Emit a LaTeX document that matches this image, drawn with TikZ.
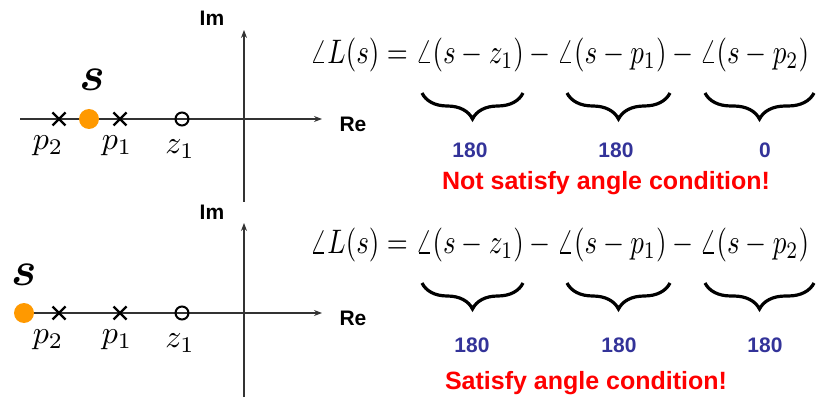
\documentclass[tikz,border=0pt]{standalone}
\usepackage{amsmath}
\usepackage{bm}
\usepackage{graphicx}
\usepackage{fontspec}
\setsansfont{Liberation Sans}
\usetikzlibrary{arrows.meta,decorations.pathreplacing}
\definecolor{dotorange}{RGB}{255,153,0}
\definecolor{angblue}{RGB}{51,51,153}
\newcommand{\bigmath}[3]{\scalebox{#1}[#2]{$#3$}}
\newcommand{\angleq}{\angle L(s) = \angle(s-z_1)-\angle(s-p_1)-\angle(s-p_2)}

\begin{document}
\begin{tikzpicture}[x=1pt,y=-1pt,
  axis/.style={line width=1.2pt,draw=black!80,-{Stealth[length=8pt,width=6pt]}},
  pole/.style={line width=2.4pt},
  zero/.style={line width=2pt},
  axlab/.style={font=\sffamily\bfseries\fontsize{21}{24}\selectfont},
  eqn/.style={inner sep=0pt,anchor=west},
  ubrace/.style={decorate,decoration={brace,mirror,amplitude=26pt},line width=3.2pt},
  angnum/.style={text=angblue,font=\sffamily\bfseries\fontsize{21}{24}\selectfont},
  verdict/.style={text=red,font=\sffamily\bfseries\fontsize{25}{28}\selectfont}]
\useasboundingbox (0,0) rectangle (817,398);

% upper plane: s between p2 and p1
\draw[axis] (20,119) -- (322,119);
\draw[axis] (244,202) -- (244,30);
\node[axlab] (im1) at (212,18) {Im};
\node[axlab] (re1) at (353,124) {Re};
\foreach \x in {59,120}
  \draw[pole] (\x-6.5,112.5) -- (\x+6.5,125.5) (\x-6.5,125.5) -- (\x+6.5,112.5);
\draw[zero] (182,119) circle (6.5);
\fill[dotorange] (89,119) circle (10);
\node (s1) at (92,80) {\bigmath{4.8}{4.8}{\bm{s}}};
\node (p2a) at (48,146) {\bigmath{3.2}{3.2}{p_2}};
\node (p1a) at (117,146) {\bigmath{3.2}{3.2}{p_1}};
\node (z1a) at (180,149) {\bigmath{3.2}{3.2}{z_1}};

\node[eqn] (eq1) at (310,55) {\bigmath{2.7}{3.4}{\angleq}};
\draw[ubrace] (422,93) -- (523,93);
\draw[ubrace] (567,93) -- (670,93);
\draw[ubrace] (705,93) -- (814,93);
\node[angnum] (n1a) at (470,150) {180};
\node[angnum] (n2a) at (616,150) {180};
\node[angnum] (n3a) at (765,150) {0};
\node[verdict] (v1) at (606,183) {Not satisfy angle condition!};

% lower plane: s left of p2
\draw[axis] (24,313) -- (322,313);
\draw[axis] (244,397) -- (244,223);
\node[axlab] (im2) at (212,212) {Im};
\node[axlab] (re2) at (353,318) {Re};
\foreach \x in {59,120}
  \draw[pole] (\x-6.5,306.5) -- (\x+6.5,319.5) (\x-6.5,319.5) -- (\x+6.5,306.5);
\draw[zero] (182,313) circle (6.5);
\fill[dotorange] (24,313) circle (10);
\node (s2) at (24,275) {\bigmath{4.8}{4.8}{\bm{s}}};
\node (p2b) at (48,340) {\bigmath{3.2}{3.2}{p_2}};
\node (p1b) at (117,340) {\bigmath{3.2}{3.2}{p_1}};
\node (z1b) at (180,343) {\bigmath{3.2}{3.2}{z_1}};

\node[eqn] (eq2) at (310,245) {\bigmath{2.7}{3.4}{\angleq}};
\draw[ubrace] (422,283) -- (523,283);
\draw[ubrace] (567,283) -- (670,283);
\draw[ubrace] (705,283) -- (814,283);
\node[angnum] (n1b) at (472,345) {180};
\node[angnum] (n2b) at (619,345) {180};
\node[angnum] (n3b) at (765,345) {180};
\node[verdict] (v2) at (586,383) {Satisfy angle condition!};
\end{tikzpicture}
\end{document}
